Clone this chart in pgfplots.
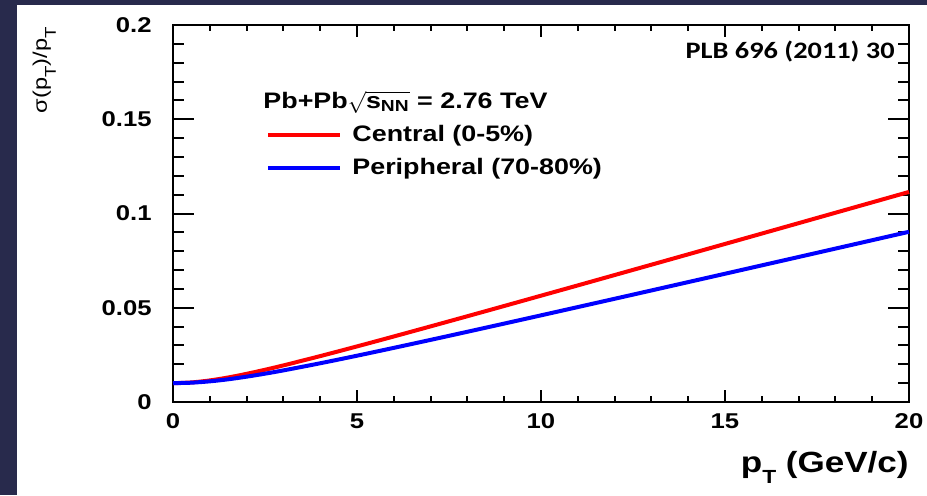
\documentclass[border=0pt]{standalone}
\usepackage{pgfplots}
\pgfplotsset{compat=1.18}
\usepackage{fontspec}
\setmainfont{Liberation Sans}[FakeStretch=1.2]
\newfontfamily\calib{Carlito}[FakeStretch=1.2]
\definecolor{navy}{RGB}{40,42,76}
\begin{document}
\begin{tikzpicture}[x=0.5pt,y=0.5pt]
\path[use as bounding box] (0,0) rectangle (927,495);
\fill[navy] (0,0) rectangle (927,495);
\fill[white] (17,0) rectangle (927,490);
\begin{axis}[
  at={(86.5pt,46.5pt)}, anchor=south west,
  scale only axis, width=368pt, height=188.5pt,
  xmin=0, xmax=20, ymin=0, ymax=0.2,
  xtick={0,5,10,15,20}, ytick={0,0.05,0.1,0.15,0.2},
  minor x tick num=4, minor y tick num=4,
  xtick pos=both, ytick pos=both, tick align=inside,
  xtick style={/pgfplots/major tick length=6pt,/pgfplots/minor tick length=3.2pt, line width=1pt, black},
  ytick style={/pgfplots/major tick length=10.5pt,/pgfplots/minor tick length=5.5pt, line width=1pt, black},
  axis line style={line width=1pt, black},
  /pgf/number format/assume math mode=true,
  yticklabel style={/pgf/number format/fixed, /pgf/number format/precision=2, inner sep=0pt, xshift=-10.5pt},
  xticklabel style={inner sep=0pt, yshift=-5.5pt},
  tick label style={font=\bfseries\fontsize{10.7}{12}\selectfont},
  clip=false,
]
\addplot[red, line width=2pt, smooth] coordinates {
(0,0.0100) (0.5,0.01038) (1,0.01144) (1.5,0.01301) (2,0.01494) (2.5,0.01710) (3,0.01942)
(4,0.02435) (5,0.02950) (6,0.03477) (7,0.04012) (8,0.04551) (9,0.05094) (10,0.05640)
(11,0.06186) (12,0.06735) (13,0.07284) (14,0.07834) (15,0.08385) (16,0.08936)
(17,0.09488) (18,0.10040) (19,0.10592) (20,0.11145)};
\addplot[blue, line width=2pt, smooth] coordinates {
(0,0.0100) (0.5,0.01025) (1,0.01096) (1.5,0.01205) (2,0.01344) (2.5,0.01503) (3,0.01677)
(4,0.02055) (5,0.02456) (6,0.02872) (7,0.03296) (8,0.03726) (9,0.04160) (10,0.04597)
(11,0.05036) (12,0.05476) (13,0.05918) (14,0.06361) (15,0.06804) (16,0.07249)
(17,0.07693) (18,0.08138) (19,0.08584) (20,0.09030)};
\end{axis}
% y label
\node[rotate=90, anchor=base east, inner sep=0pt, font=\fontsize{9.8}{11}\selectfont] at (47,468)
  {σ(p\raisebox{-0.45em}{\fontsize{7.8}{8}\selectfont T})/p\raisebox{-0.45em}{\fontsize{7.8}{8}\selectfont T}};
% x label
\node[anchor=base east, inner sep=0pt, font=\bfseries\fontsize{14.6}{16}\selectfont] at (909,23)
  {p\raisebox{-5.5pt}{\fontsize{9.5}{10}\selectfont T} (GeV/c)};
% annotation
\node[anchor=base east, inner sep=0pt, font=\calib\bfseries\fontsize{11.8}{13}\selectfont] at (895,437) {PLB 696 (2011) 30};
% legend
\node[anchor=base west, inner sep=0pt, font=\bfseries\fontsize{11.2}{13}\selectfont] at (263,387)
  {Pb+Pb$\sqrt{\hbox{\bfseries\fontsize{11.2}{13}\selectfont s}_{\hbox{\bfseries\fontsize{8}{9}\selectfont NN}}}$ = 2.76 TeV};
\draw[red, line width=2pt] (268,360) -- (340,360);
\node[anchor=base west, inner sep=0pt, font=\bfseries\fontsize{11.2}{13}\selectfont] at (352,354) {Central (0-5\%)};
\draw[blue, line width=2pt] (268,327) -- (340,327);
\node[anchor=base west, inner sep=0pt, font=\bfseries\fontsize{11.2}{13}\selectfont] at (352,321) {Peripheral (70-80\%)};
\end{tikzpicture}
\end{document}
